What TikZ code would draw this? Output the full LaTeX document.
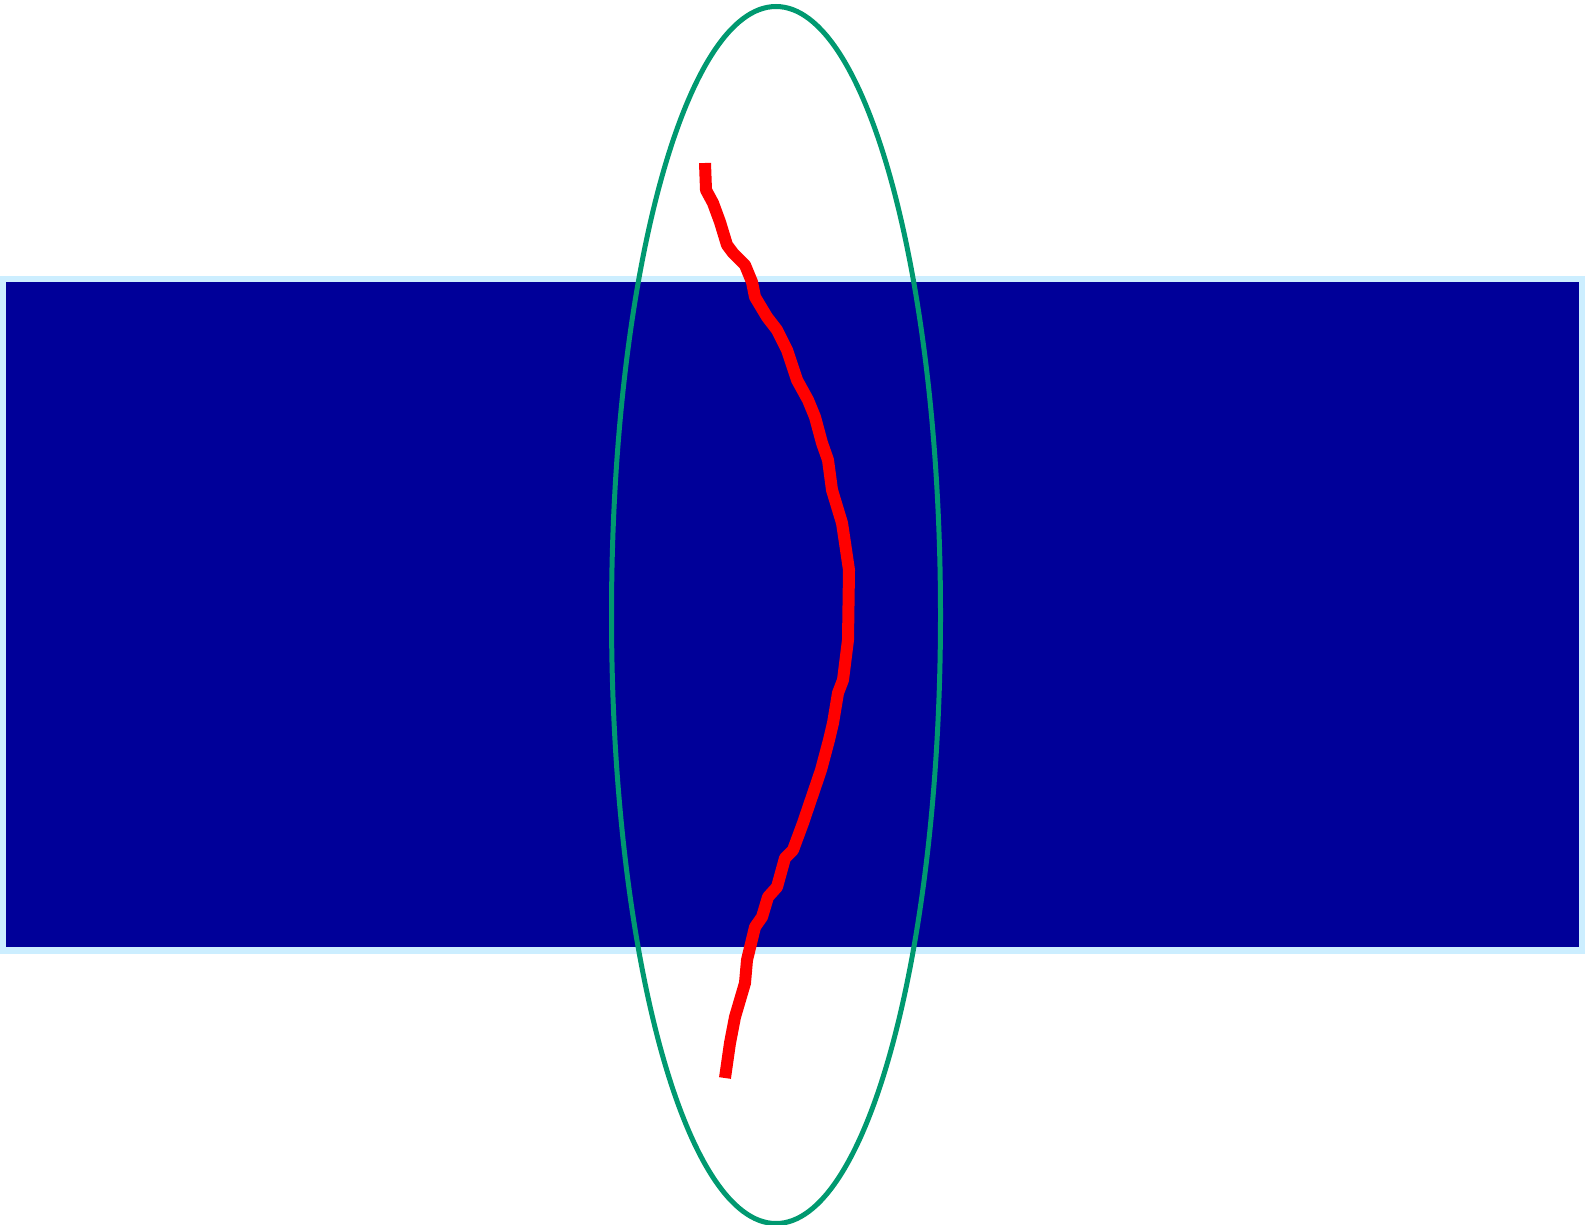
\documentclass[tikz,border=0pt]{standalone}
\usepackage{xcolor}
\usepackage{tikz}

\definecolor{slabblue}{HTML}{000099}
\definecolor{slabedge}{HTML}{CCEEFF}
\definecolor{ringgreen}{HTML}{009970}

\begin{document}
\begin{tikzpicture}[x=1pt, y=-1pt,
  slab/.style={draw=slabedge, fill=slabblue, line width=6.5pt},
  ring/.style={draw=ringgreen, line width=5pt},
  trace/.style={draw=red, line width=12pt, line join=round}]
  \useasboundingbox (0,0) rectangle (1585,1225);

  % Slab
  \draw[slab] (3,279) rectangle (1582,950.5);

  % Ellipse
  \draw[ring] (776,615) ellipse (164.5pt and 608.5pt);

  % Red trace
  \draw[trace] (705,163) -- (706,190) -- (713,203) -- (720,222) -- (727,245)
    -- (733,253) -- (745,265) -- (752,282) -- (755,297) -- (767,317)
    -- (777,330) -- (787,350) -- (797,380) -- (808,400) -- (815,417)
    -- (822,443) -- (828,460) -- (832,490) -- (842,523) -- (845,543)
    -- (849,570) -- (848,640) -- (843,680) -- (838,693) -- (833,723)
    -- (829,740) -- (821,770) -- (803,823) -- (793,850) -- (785,858)
    -- (777,887) -- (768,897) -- (762,917) -- (755,927) -- (747,960)
    -- (745,983) -- (735,1017) -- (730,1043) -- (725,1078);
\end{tikzpicture}
\end{document}
